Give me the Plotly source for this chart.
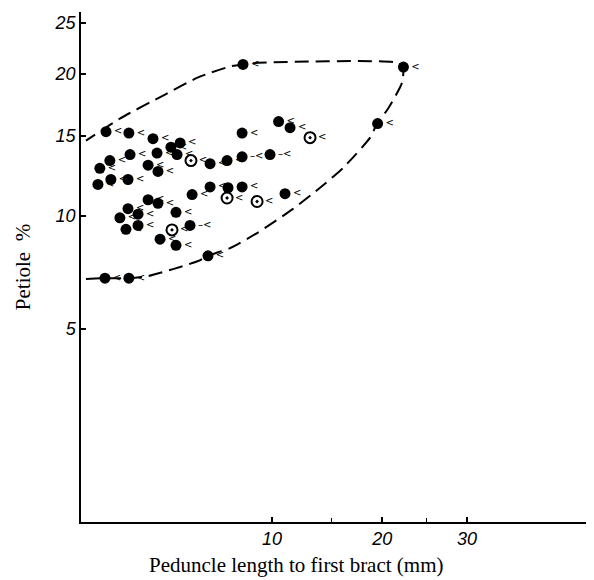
import numpy as np
import plotly.graph_objects as go

# ---- data ----
# filled glyphs: peduncle length to first bract (mm), petiole %
peduncle_mm = [1.42, 2.14, 3.06, 3.85, 4.29, 7.88, 1.25, 1.53, 2.18, 2.86,
               3.23, 4.14, 3.27, 5.89, 6.91, 7.88, 1.20, 1.56, 2.11, 2.86,
               3.27, 4.09, 4.90, 5.89, 6.97, 7.88, 2.11, 1.84, 2.47, 2.04,
               2.47, 4.79, 3.36, 4.09, 5.77, 1.39, 2.14, 7.94, 22.3, 19.5,
               10.5, 11.4, 9.85, 11.0]
petiole_pct = [15.3, 15.2, 14.8, 14.2, 14.5, 15.2, 12.8, 13.3, 13.7, 13.0,
               13.8, 13.7, 12.6, 13.1, 13.3, 13.55, 11.8, 12.1, 12.1, 10.9,
               10.7, 10.2, 11.2, 11.65, 11.6, 11.65, 10.4, 9.9, 10.1, 9.3,
               9.5, 9.5, 8.8, 8.5, 8.0, 7.0, 7.0, 20.85, 20.6, 15.9,
               16.05, 15.6, 13.7, 11.25]
glyph = ["<", "<", "<", "<", "<", "<", "<", "<", "<", "<",
         "<", "<", "<", "<", "<", "–<", "<", "<", "<", "<",
         "<", "<", "<", "<", "<", "<", "<", "<", "<", "<",
         "<", "–<", "<", "<", "<", "<", "<", "<", "<", "<",
         "<", "<", "–<", "<"]

# open (ringed) glyphs
open_peduncle_mm = [4.84, 6.91, 8.91, 3.90, 13.06]
open_petiole_pct = [13.3, 11.0, 10.8, 9.27, 14.87]

# dashed envelope drawn round the points
env_peduncle_mm = [0.91, 1.39, 2.14, 2.86, 5.22, 5.77, 7.10, 8.91, 11.64, 13.93,
                   16.05, 18.72, 19.45, 20.62, 22.15, 22.26, 21.71, 8.98, 7.94,
                   7.10, 5.22, 3.58, 1.84, 0.91]
env_petiole_pct = [6.96, 7.0, 7.0, 7.09, 7.76, 8.0, 8.37, 9.11, 10.39, 11.6,
                   12.83, 14.87, 15.9, 17.06, 19.22, 20.57, 21.0, 21.0, 20.85,
                   20.66, 19.67, 18.2, 16.28, 14.66]

y_ticks = [5, 10, 15, 20, 25]
x_ticks = [10, 20, 30]
x_minor_ticks = [15, 25]


# axis scales of the original figure (square-root x, log(p+5) y)
def tx(v):
    return np.sqrt(np.asarray(v, dtype=float))


def ty(v):
    return np.log(np.asarray(v, dtype=float) + 5.0)


fig = go.Figure()

fig.add_trace(go.Scatter(
    x=tx(env_peduncle_mm), y=ty(env_petiole_pct), mode="lines",
    line=dict(color="black", width=2, dash="14px,7px", shape="spline", smoothing=0.6),
    hoverinfo="skip", showlegend=False))

fig.add_trace(go.Scatter(
    x=tx(peduncle_mm), y=ty(petiole_pct), mode="markers+text",
    text=glyph, textposition="middle right",
    textfont=dict(family="DejaVu Sans", size=10, color="black"),
    marker=dict(symbol="circle", size=11, color="black", line=dict(width=0)),
    showlegend=False))

fig.add_trace(go.Scatter(
    x=tx(open_peduncle_mm), y=ty(open_petiole_pct), mode="markers+text",
    text=["<"] * len(open_peduncle_mm), textposition="middle right",
    textfont=dict(family="DejaVu Sans", size=10, color="black"),
    marker=dict(symbol="circle-open-dot", size=11, color="black", line=dict(width=2)),
    showlegend=False))

# page body keeps an 8px margin, so the figure is sized to fit inside it
fig.update_layout(
    width=586, height=572, autosize=False,
    margin=dict(l=73, r=6, t=4, b=58),
    paper_bgcolor="white", plot_bgcolor="white",
    xaxis=dict(
        range=[float(tx(0.8)), float(tx(47.8))], automargin=False,
        tickmode="array", tickvals=tx(x_ticks), ticktext=[str(v) for v in x_ticks],
        ticks="inside", ticklen=5, tickwidth=1.5, tickcolor="black",
        minor=dict(tickmode="array", tickvals=tx(x_minor_ticks), ticks="inside",
                   ticklen=4, tickwidth=1, tickcolor="black"),
        tickfont=dict(family="Liberation Sans", size=18, style="italic", color="black"),
        showline=True, linecolor="black", linewidth=1.5, showgrid=False, zeroline=False,
    ),
    yaxis=dict(
        range=[float(ty(0)), float(ty(26.2))], automargin=False,
        tickmode="array", tickvals=ty(y_ticks), ticktext=[str(v) for v in y_ticks],
        ticks="inside", ticklen=5, tickwidth=1.5, tickcolor="black",
        tickfont=dict(family="Liberation Sans", size=18, style="italic", color="black"),
        showline=True, linecolor="black", linewidth=1.5, showgrid=False, zeroline=False,
        title=dict(text="Petiole  %", standoff=18,
                   font=dict(family="Liberation Serif", size=21, color="black")),
    ),
    annotations=[dict(
        text="Peduncle length to first bract (mm)", xref="paper", yref="paper",
        x=0.426, y=0, yshift=-43, xanchor="center", yanchor="middle", showarrow=False,
        font=dict(family="Liberation Serif", size=21, color="black"))],
)

fig.write_html("out.html")
